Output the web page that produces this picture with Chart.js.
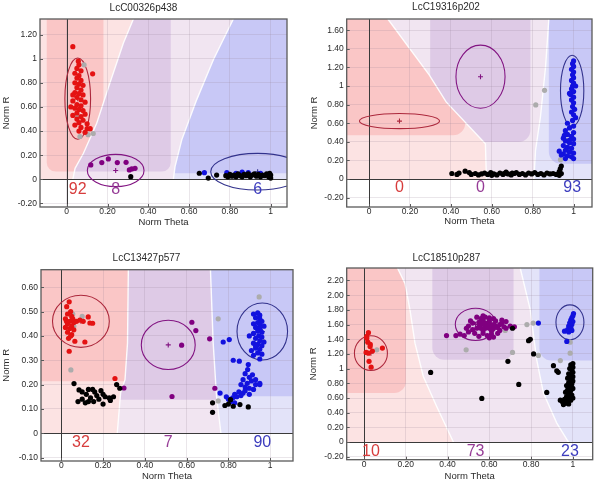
<!DOCTYPE html>
<html>
<head>
<meta charset="utf-8">
<script src="https://cdn.jsdelivr.net/npm/chart.js"></script>
<style>
html,body{margin:0;padding:0;background:#fff;}
#wrap{position:relative;width:600px;height:483px;overflow:hidden;}
canvas{position:absolute;}
</style>
</head>
<body>
<div id="wrap">
<canvas id="c1" width="300" height="241" style="left:0;top:0"></canvas>
<canvas id="c2" width="300" height="241" style="left:300px;top:0"></canvas>
<canvas id="c3" width="300" height="241" style="left:0;top:242px"></canvas>
<canvas id="c4" width="300" height="241" style="left:300px;top:242px"></canvas>
</div>
<script>
// ---- data ----
// axis ticks
var p1XTicks=[0,0.2,0.4,0.6,0.8,1], p1XLabels=['0','0.20','0.40','0.60','0.80','1'];
var p1YTicks=[-0.2,0,0.2,0.4,0.6,0.8,1,1.2], p1YLabels=['-0.20','0','0.20','0.40','0.60','0.80','1','1.20'];
var p2YTicks=[-0.2,0,0.2,0.4,0.6,0.8,1,1.2,1.4,1.6], p2YLabels=['-0.20','0','0.20','0.40','0.60','0.80','1','1.20','1.40','1.60'];
var p3YTicks=[-0.1,0,0.1,0.2,0.3,0.4,0.5,0.6], p3YLabels=['-0.10','0','0.10','0.20','0.30','0.40','0.50','0.60'];
var p4YTicks=[-0.2,0,0.2,0.4,0.6,0.8,1,1.2,1.4,1.6,1.8,2,2.2], p4YLabels=['-0.20','0','0.20','0.40','0.60','0.80','1','1.20','1.40','1.60','1.80','2.00','2.20'];

// counts per class (red, purple, blue)
var p1Counts=[92,8,6], p2Counts=[0,0,93], p3Counts=[32,7,90], p4Counts=[10,73,23];

// cluster ellipses [cx, cy, rx, ry] (red, purple, blue)
var p1Ell=[[0.054,0.669,0.063,0.337],[0.240,0.073,0.139,0.134],[0.936,0.063,0.23,0.152]];
var p2Ell=[[0.149,0.623,0.196,0.081],[0.545,1.10,0.120,0.339],[0.993,0.949,0.057,0.382]];
var p3Ell=[[0.094,0.46,0.136,0.107],[0.512,0.363,0.129,0.101],[0.962,0.418,0.121,0.117]];
var p4Ell=[[0.033,1.211,0.079,0.236],[0.534,1.603,0.097,0.22],[0.986,1.63,0.067,0.238]];

// class boundaries (red|purple, purple|blue), top to bottom
var p1BoundA=[[0.327,1.33],[0.278,1.13],[0.212,0.80],[0.147,0.465],[0.082,0.216],[0.041,0.091],[0.03,0]];
var p1BoundB=[[0.817,1.33],[0.719,0.992],[0.637,0.659],[0.564,0.327],[0.531,0.105],[0.523,0]];
var p2BoundA=[[0.092,1.72],[0.295,1.117],[0.377,0.829],[0.569,0.38],[0.574,0]];
var p2BoundB=[[0.879,1.72],[0.863,1.206],[0.838,0.667],[0.814,0.309],[0.806,0]];
var p3BoundA=[[0.321,0.672],[0.317,0.371],[0.305,0.22],[0.284,0.166],[0.268,0]];
var p3BoundB=[[0.714,0.672],[0.727,0.371],[0.743,0.152],[0.764,0]];
var p4BoundA=[[0.16,2.37],[0.196,2.16],[0.22,1.80],[0.244,1.347],[0.284,0.893],[0.348,0.485],[0.428,0]];
var p4BoundB=[[0.748,2.37],[0.796,1.80],[0.827,1.12],[0.859,0.667],[0.923,0.259],[0.979,0]];

// core areas [x from, x to, y from] (red, purple, blue)
var p1Cores=[[-0.098,0.18,0.064],[-0.2,0.51,0.064],[0.4,1.3,0.05]];
var p2Cores=[[-0.3,0.47,0.47],[0.299,0.789,0.398],[0.879,1.3,0.165]];
var p3Cores=[[-0.3,0.5,0.214],[0.2,0.8,0.138],[0.6,1.3,0.152]];
var p4Cores=[[-0.3,0.201,0.667],[0.327,0.716,1.12],[0.84,1.3,1.11]];

// points
var p1Red=[[0.03,1.10],[0.057,0.98],[0.06,0.95],[0.05,0.92],[0.07,0.90],[0.127,0.875],[0.04,0.88],[0.06,0.86],[0.05,0.84],[0.07,0.82],[0.04,0.80],[0.06,0.79],[0.08,0.78],[0.05,0.76],[0.07,0.74],[0.04,0.72],[0.06,0.71],[0.08,0.70],[0.05,0.68],[0.07,0.66],[0.03,0.65],[0.09,0.64],[0.05,0.62],[0.07,0.61],[0.04,0.59],[0.06,0.58],[0.08,0.57],[0.05,0.55],[0.09,0.54],[0.03,0.53],[0.07,0.52],[0.05,0.50],[0.08,0.49],[0.06,0.47],[0.10,0.46],[0.04,0.45],[0.07,0.43],[0.10,0.42],[0.06,0.40],[0.09,0.39],[0.115,0.42],[0.03,0.70],[0.02,0.60]];
var p1Purple=[[0.118,0.119],[0.172,0.139],[0.204,0.169],[0.248,0.139],[0.291,0.141],[0.307,0.078],[0.319,0.086],[0.335,0.091]];
var p1Blue=[[0.675,0.055],[0.785,0.055],[0.83,0.05],[0.86,0.06],[0.89,0.055],[0.95,0.05]];
var p1Black=[[0.314,0.022],[0.65,0.05],[0.694,0.01],[0.735,0.035],[0.78,0.03],[0.79,0.02],[0.80,0.04],[0.81,0.025],[0.82,0.035],[0.83,0.02],[0.84,0.045],[0.85,0.03],[0.86,0.02],[0.87,0.04],[0.88,0.03],[0.89,0.045],[0.90,0.02],[0.91,0.035],[0.92,0.045],[0.93,0.025],[0.94,0.04],[0.95,0.02],[0.96,0.035],[0.97,0.03],[0.98,0.045],[0.99,0.02],[1.0,0.035],[1.0,0.01],[0.995,0.05]];
var p1Grey=[[0.065,0.355],[0.105,0.37],[0.13,0.38],[0.07,0.58],[0.085,0.95],[0.05,0.53]];

var p2Red=[], p2Purple=[];
var p2Blue=[[1.0,1.27],[0.995,1.24],[1.0,1.21],[0.99,1.18],[1.0,1.15],[0.995,1.12],[1.0,1.09],[0.99,1.06],[1.0,1.03],[0.995,1.0],[0.99,0.97],[1.0,0.94],[0.985,0.91],[1.0,0.88],[0.99,0.85],[1.0,0.82],[0.995,0.78],[1.005,0.75],[0.99,0.72],[1.0,0.69],[1.01,0.66],[0.995,0.63],[0.98,0.92],[1.01,1.0],[0.97,0.60],[1.0,0.57],[0.98,0.55],[0.96,0.52],[1.0,0.50],[0.97,0.48],[0.99,0.46],[0.95,0.44],[1.0,0.43],[0.96,0.41],[0.98,0.39],[1.0,0.38],[0.95,0.36],[0.97,0.34],[0.99,0.33],[0.96,0.31],[0.98,0.29],[1.0,0.28],[0.95,0.27],[0.97,0.25],[0.99,0.24],[0.96,0.22],[1.0,0.22],[0.94,0.26],[0.93,0.30],[0.98,0.42],[0.955,0.47]];
var p2Black=[[0.405,0.06],[0.43,0.05],[0.44,0.065],[0.47,0.085],[0.49,0.07],[0.5,0.05],[0.52,0.06],[0.535,0.045],[0.55,0.055],[0.565,0.065],[0.58,0.05],[0.595,0.07],[0.61,0.055],[0.625,0.045],[0.64,0.065],[0.655,0.05],[0.67,0.075],[0.68,0.055],[0.695,0.045],[0.71,0.06],[0.72,0.07],[0.735,0.05],[0.75,0.06],[0.765,0.045],[0.78,0.065],[0.795,0.055],[0.81,0.07],[0.825,0.05],[0.84,0.06],[0.855,0.045],[0.87,0.065],[0.885,0.055],[0.9,0.06],[0.915,0.05],[0.93,0.08],[0.935,0.11],[0.94,0.14],[0.93,0.04],[0.94,0.06],[0.6,0.04],[0.66,0.06],[0.7,0.065]];
var p2Grey=[[0.815,0.797],[0.858,0.954],[0.969,0.416],[0.936,0.208]];

var p3Red=[[0.038,0.54],[0.026,0.52],[0.045,0.50],[0.03,0.49],[0.05,0.48],[0.02,0.47],[0.04,0.46],[0.06,0.455],[0.03,0.45],[0.05,0.44],[0.02,0.435],[0.04,0.43],[0.06,0.425],[0.03,0.415],[0.05,0.405],[0.035,0.39],[0.045,0.40],[0.073,0.46],[0.089,0.465],[0.105,0.46],[0.129,0.478],[0.137,0.453],[0.15,0.452],[0.065,0.378],[0.113,0.375],[0.038,0.337],[0.257,0.225],[0.025,0.46],[0.055,0.47]];
var p3Purple=[[0.625,0.456],[0.644,0.422],[0.71,0.388],[0.576,0.362],[0.30,0.186],[0.53,0.151],[0.735,0.185]];
var p3Blue=[[0.92,0.49],[0.94,0.495],[0.95,0.485],[0.93,0.475],[0.95,0.47],[0.96,0.46],[0.94,0.455],[0.92,0.45],[0.95,0.445],[0.97,0.44],[0.93,0.435],[0.95,0.43],[0.94,0.42],[0.96,0.415],[0.92,0.41],[0.945,0.40],[0.96,0.395],[0.93,0.39],[0.95,0.38],[0.97,0.375],[0.92,0.37],[0.94,0.365],[0.96,0.36],[0.93,0.35],[0.95,0.345],[0.91,0.34],[0.94,0.33],[0.96,0.325],[0.92,0.32],[0.95,0.305],[0.93,0.36],[0.9,0.40],[0.775,0.375],[0.804,0.385],[0.823,0.30],[0.852,0.296],[0.892,0.262],[0.895,0.282],[0.88,0.245],[0.9,0.23],[0.87,0.22],[0.91,0.215],[0.93,0.2],[0.95,0.2],[0.89,0.205],[0.86,0.2],[0.88,0.19],[0.9,0.185],[0.92,0.18],[0.85,0.17],[0.87,0.165],[0.83,0.16],[0.84,0.15],[0.82,0.145],[0.8,0.14],[0.86,0.155],[0.9,0.16],[0.88,0.175],[0.81,0.13],[0.83,0.125],[0.79,0.15],[0.93,0.22],[0.95,0.205],[0.915,0.24],[0.76,0.165]];
var p3Black=[[0.061,0.204],[0.085,0.178],[0.1,0.17],[0.12,0.16],[0.13,0.18],[0.15,0.18],[0.16,0.17],[0.17,0.155],[0.19,0.175],[0.2,0.16],[0.21,0.15],[0.23,0.145],[0.25,0.15],[0.08,0.13],[0.1,0.14],[0.115,0.125],[0.13,0.13],[0.155,0.13],[0.18,0.14],[0.2,0.12],[0.14,0.145],[0.235,0.135],[0.265,0.2],[0.28,0.185],[0.724,0.125],[0.724,0.086],[0.783,0.114],[0.823,0.111],[0.895,0.108],[0.81,0.138],[0.855,0.118],[0.8,0.12]];
var p3Grey=[[0.055,0.49],[0.06,0.44],[0.1,0.48],[0.046,0.26],[0.947,0.56],[0.751,0.47],[0.967,0.378],[0.751,0.133]];

var p4Red=[[0.021,1.49],[0.013,1.44],[0.013,1.415],[0.018,1.36],[0.03,1.33],[0.029,1.30],[0.01,1.22],[0.021,1.21],[0.04,1.24],[0.088,1.28],[0.024,1.10],[0.034,1.02]];
var p4Purple=[[0.395,1.45],[0.44,1.45],[0.46,1.47],[0.48,1.45],[0.5,1.5],[0.52,1.53],[0.5,1.58],[0.52,1.62],[0.54,1.70],[0.56,1.68],[0.57,1.72],[0.58,1.70],[0.6,1.69],[0.62,1.68],[0.55,1.63],[0.57,1.65],[0.58,1.62],[0.59,1.60],[0.6,1.62],[0.61,1.58],[0.62,1.60],[0.55,1.57],[0.56,1.55],[0.57,1.52],[0.58,1.55],[0.59,1.57],[0.6,1.55],[0.61,1.52],[0.62,1.55],[0.63,1.58],[0.64,1.56],[0.65,1.60],[0.66,1.62],[0.67,1.57],[0.68,1.55],[0.7,1.58],[0.72,1.57],[0.66,1.66],[0.57,1.48],[0.59,1.45],[0.61,1.47],[0.6,1.42],[0.62,1.43],[0.55,1.44],[0.53,1.48],[0.51,1.65],[0.49,1.55],[0.64,1.48],[0.68,1.64],[0.65,1.52],[0.56,1.6],[0.58,1.58],[0.6,1.65],[0.63,1.65],[0.54,1.55]];
var p4Blue=[[1.003,1.75],[1.0,1.72],[0.995,1.69],[0.99,1.66],[1.0,1.64],[0.985,1.62],[0.995,1.60],[0.98,1.58],[0.99,1.56],[0.975,1.53],[0.96,1.51],[0.98,1.50],[0.995,1.52],[0.835,1.62],[0.971,1.37],[0.99,1.54]];
var p4Black=[[0.319,0.948],[0.564,0.594],[0.711,1.55],[0.796,1.40],[0.788,1.38],[0.812,1.20],[0.689,1.10],[0.741,0.785],[0.875,0.676],[0.907,1.04],[0.923,0.97],[0.93,0.95],[1.0,1.07],[0.99,1.05],[1.0,1.02],[0.985,1.0],[0.995,0.98],[1.0,0.95],[0.98,0.93],[0.99,0.91],[1.0,0.89],[0.975,0.87],[0.99,0.85],[1.0,0.83],[0.98,0.81],[0.995,0.79],[0.97,0.77],[0.985,0.75],[1.0,0.73],[0.975,0.71],[0.99,0.70],[0.965,0.68],[0.98,0.66],[0.995,0.64],[0.97,0.62],[0.985,0.60],[0.96,0.58],[0.975,0.56],[0.95,0.55],[0.965,0.53],[0.955,0.51],[0.99,0.57],[1.0,0.6],[0.94,0.57],[0.98,0.52]];
var p4Grey=[[0.061,1.256],[0.489,1.256],[0.711,1.22],[0.78,1.6],[0.81,1.62],[0.835,1.18],[0.94,1.11],[0.987,1.36],[0.987,1.21],[0.676,1.52]];

// ---- styles ----
var FONT='"Liberation Sans", Arial, sans-serif';
Chart.defaults.font.family=FONT;
var dotCols={red:'rgb(228,18,18)',purple:'rgb(128,0,128)',blue:'rgb(18,18,222)',black:'rgb(0,0,0)',grey:'rgb(172,172,172)'};
var lightCols=['rgb(252,227,227)','rgb(241,229,241)','rgb(227,227,249)'];
var coreCols=['rgb(250,198,198)','rgb(222,202,230)','rgb(200,200,246)'];
var ellCols=['rgb(172,40,60)','rgb(130,20,130)','rgb(50,50,140)'];
var numCols=['rgb(215,60,60)','rgb(150,60,150)','rgb(60,60,190)'];

var regionPlugin={
  id:'regions',
  beforeDraw:function(chart){
    var o=chart.options.plugins.regions;
    var ctx=chart.ctx, a=chart.chartArea, xs=chart.scales.x, ys=chart.scales.y;
    var X=function(v){return xs.getPixelForValue(v);}, Y=function(v){return ys.getPixelForValue(v);};
    function path(poly){
      ctx.beginPath();
      poly.forEach(function(p,i){ if(i) ctx.lineTo(X(p[0]),Y(p[1])); else ctx.moveTo(X(p[0]),Y(p[1])); });
      ctx.closePath();
    }
    var A=o.bounds[0], B=o.bounds[1];
    var polys=[
      [[xs.min,ys.max]].concat(A,[[xs.min,0]]),
      A.concat(B.slice().reverse()),
      B.concat([[xs.max,0],[xs.max,ys.max]])
    ];
    ctx.save();
    ctx.beginPath(); ctx.rect(a.left,a.top,a.right-a.left,Y(0)-a.top); ctx.clip();
    polys.forEach(function(poly,i){
      path(poly); ctx.fillStyle=lightCols[i]; ctx.fill();
      var c=o.cores[i];
      ctx.save(); path(poly); ctx.clip();
      var x0=X(c[0]), x1=X(c[1]), y0=Y(c[2]);
      ctx.beginPath(); ctx.roundRect(x0,a.top-30,x1-x0,y0-a.top+30,o.radius);
      ctx.fillStyle=coreCols[i]; ctx.fill();
      ctx.restore();
    });
    ctx.strokeStyle='rgba(255,255,255,0.9)'; ctx.lineWidth=1.4;
    [A,B].forEach(function(line){
      ctx.beginPath();
      line.forEach(function(p,i){ if(i) ctx.lineTo(X(p[0]),Y(p[1])); else ctx.moveTo(X(p[0]),Y(p[1])); });
      ctx.stroke();
    });
    ctx.restore();
  },
  beforeDatasetsDraw:function(chart){
    var o=chart.options.plugins.regions;
    var ctx=chart.ctx, a=chart.chartArea, xs=chart.scales.x, ys=chart.scales.y;
    var X=function(v){return xs.getPixelForValue(v);}, Y=function(v){return ys.getPixelForValue(v);};
    ctx.save();
    ctx.beginPath(); ctx.rect(a.left,a.top,a.right-a.left,a.bottom-a.top); ctx.clip();
    // zero axes
    ctx.strokeStyle='#3a3a3a'; ctx.lineWidth=1;
    ctx.beginPath();
    ctx.moveTo(Math.round(X(0))+0.5,a.top); ctx.lineTo(Math.round(X(0))+0.5,a.bottom);
    ctx.moveTo(a.left,Math.round(Y(0))+0.5); ctx.lineTo(a.right,Math.round(Y(0))+0.5);
    ctx.stroke();
    // ellipses
    var ux=X(1)-X(0), uy=Y(0)-Y(1);
    o.ellipses.forEach(function(e,i){
      var cx=X(e[0]), cy=Y(e[1]);
      ctx.strokeStyle=ellCols[i]; ctx.lineWidth=1.1;
      ctx.beginPath(); ctx.ellipse(cx,cy,e[2]*ux,e[3]*uy,0,0,Math.PI*2); ctx.stroke();
      ctx.beginPath(); ctx.moveTo(cx-2.5,cy); ctx.lineTo(cx+2.5,cy); ctx.moveTo(cx,cy-2.5); ctx.lineTo(cx,cy+2.5); ctx.stroke();
      ctx.fillStyle=numCols[i]; ctx.font='16px '+FONT; ctx.textAlign='center'; ctx.textBaseline='middle';
      ctx.fillText(String(o.counts[i]),cx,Y(o.countY));
    });
    ctx.restore();
  },
  afterDraw:function(chart){
    var ctx=chart.ctx, a=chart.chartArea, xs=chart.scales.x, ys=chart.scales.y;
    ctx.save();
    ctx.strokeStyle='#5a5a5a'; ctx.lineWidth=1.3;
    ctx.strokeRect(a.left,a.top,a.right-a.left,a.bottom-a.top);
    ctx.lineWidth=1; ctx.beginPath();
    xs.ticks.forEach(function(t){ var px=Math.round(xs.getPixelForValue(t.value))+0.5; ctx.moveTo(px,a.bottom); ctx.lineTo(px,a.bottom-3); });
    ys.ticks.forEach(function(t){ var py=Math.round(ys.getPixelForValue(t.value))+0.5; ctx.moveTo(a.left,py); ctx.lineTo(a.left+3,py); });
    ctx.stroke();
    ctx.restore();
  }
};

function ds(arr,col){
  return {data:arr.map(function(p){return {x:p[0],y:p[1]};}),backgroundColor:col,borderWidth:0,pointRadius:2.6,pointHoverRadius:2.6};
}

function panel(id,title,d,L){
  var H=241, tfs=10, afs=9.5, lh=1.2;
  var tTop=L.titleY-tfs*lh/2, tBot=L.t-tTop-tfs*lh;
  var xAxisH=L.xTitleY+afs*lh/2-L.b;
  var tickFont={size:8.5,family:FONT};
  var gridCol='rgba(150,130,150,0.2)';
  return new Chart(document.getElementById(id),{
    type:'scatter',
    data:{datasets:[ds(d.black,dotCols.black),ds(d.red,dotCols.red),ds(d.purple,dotCols.purple),ds(d.blue,dotCols.blue),ds(d.grey,dotCols.grey)]},
    options:{
      responsive:false,animation:false,devicePixelRatio:1,
      layout:{padding:{left:0,right:300-L.r,top:0,bottom:H-L.b-xAxisH}},
      plugins:{
        legend:{display:false},tooltip:{enabled:false},
        title:{display:true,text:title,color:'#2a2a2a',font:{size:tfs,weight:'normal',family:FONT,lineHeight:lh},padding:{top:tTop,bottom:tBot}},
        regions:{bounds:d.bounds,cores:d.cores,ellipses:d.ell,counts:d.counts,countY:L.countY,radius:L.radius}
      },
      scales:{
        x:{type:'linear',min:L.xmin,max:L.xmax,
          afterBuildTicks:function(s){s.ticks=d.xTicks.map(function(v){return {value:v};});},
          afterFit:function(s){s.height=xAxisH;},
          ticks:{autoSkip:false,maxRotation:0,padding:0,font:tickFont,color:'#2a2a2a',callback:function(v,i){return d.xLabels[i];}},
          grid:{color:gridCol,drawTicks:false},border:{display:false},
          title:{display:true,text:'Norm Theta',color:'#2a2a2a',padding:0,font:{size:afs,family:FONT,lineHeight:lh}}
        },
        y:{type:'linear',min:L.ymin,max:L.ymax,
          afterBuildTicks:function(s){s.ticks=d.yTicks.map(function(v){return {value:v};});},
          afterFit:function(s){s.width=L.l;},
          ticks:{autoSkip:false,padding:3,font:tickFont,color:'#2a2a2a',callback:function(v,i){return d.yLabels[i];}},
          grid:{color:gridCol,drawTicks:false},border:{display:false},
          title:{display:true,text:'Norm R',color:'#2a2a2a',padding:{top:L.yTitleX-afs*lh/2,bottom:0},font:{size:afs,family:FONT,lineHeight:lh}}
        }
      }
    },
    plugins:[regionPlugin]
  });
}

panel('c1','LcC00326p438',
  {red:p1Red,purple:p1Purple,blue:p1Blue,black:p1Black,grey:p1Grey,bounds:[p1BoundA,p1BoundB],cores:p1Cores,ell:p1Ell,counts:p1Counts,xTicks:p1XTicks,xLabels:p1XLabels,yTicks:p1YTicks,yLabels:p1YLabels},
  {l:40,r:287,t:19,b:207,titleY:8.3,xTitleY:222.5,yTitleX:6,xmin:-0.131,xmax:1.08,ymin:-0.23,ymax:1.33,countY:-0.083,radius:9});
panel('c2','LcC19316p202',
  {red:p2Red,purple:p2Purple,blue:p2Blue,black:p2Black,grey:p2Grey,bounds:[p2BoundA,p2BoundB],cores:p2Cores,ell:p2Ell,counts:p2Counts,xTicks:p1XTicks,xLabels:p1XLabels,yTicks:p2YTicks,yLabels:p2YLabels},
  {l:46.7,r:292,t:19,b:207,titleY:7.3,xTitleY:221.5,yTitleX:14,xmin:-0.109,xmax:1.09,ymin:-0.30,ymax:1.72,countY:-0.093,radius:12});
panel('c3','LcC13427p577',
  {red:p3Red,purple:p3Purple,blue:p3Blue,black:p3Black,grey:p3Grey,bounds:[p3BoundA,p3BoundB],cores:p3Cores,ell:p3Ell,counts:p3Counts,xTicks:p1XTicks,xLabels:p1XLabels,yTicks:p3YTicks,yLabels:p3YLabels},
  {l:41,r:293,t:27.7,b:219,titleY:16,xTitleY:234.5,yTitleX:6,xmin:-0.097,xmax:1.109,ymin:-0.114,ymax:0.672,countY:-0.04,radius:4});
panel('c4','LcC18510p287',
  {red:p4Red,purple:p4Purple,blue:p4Blue,black:p4Black,grey:p4Grey,bounds:[p4BoundA,p4BoundB],cores:p4Cores,ell:p4Ell,counts:p4Counts,xTicks:p1XTicks,xLabels:p1XLabels,yTicks:p4YTicks,yLabels:p4YLabels},
  {l:46.7,r:292.7,t:26,b:217.7,titleY:16,xTitleY:234.5,yTitleX:13.3,xmin:-0.083,xmax:1.095,ymin:-0.24,ymax:2.37,countY:-0.127,radius:12});
</script>
</body>
</html>
